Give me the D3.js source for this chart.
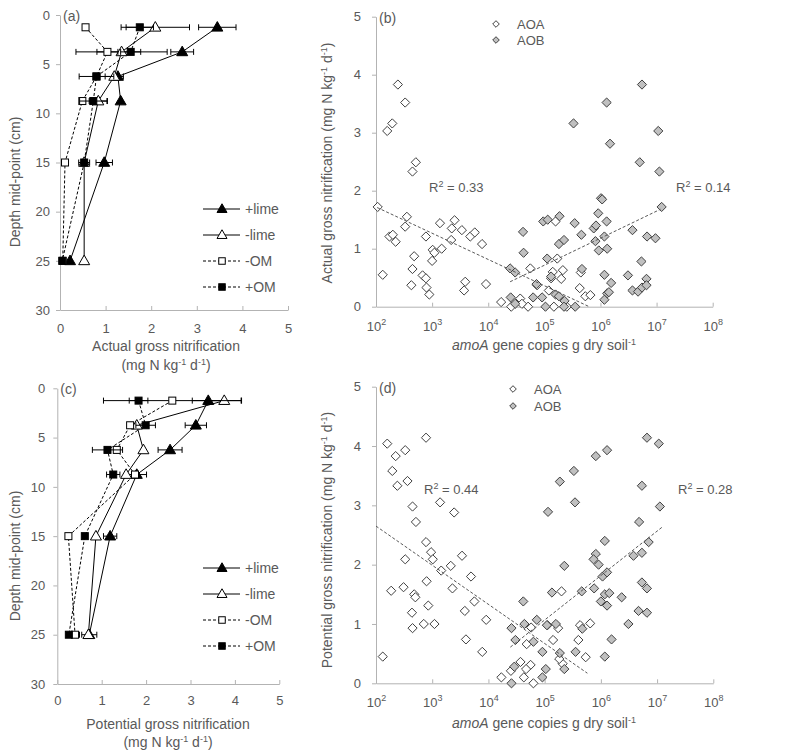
<!DOCTYPE html>
<html><head><meta charset="utf-8">
<script src="https://cdn.jsdelivr.net/npm/d3@7"></script>
<style>
body{margin:0;background:#fff}
text{font-family:"Liberation Sans Narrow","Arial Narrow","Liberation Sans",sans-serif;fill:#595959}
</style>
</head><body>
<svg id="chart" width="787" height="754"></svg>
<script>
// ---------- Data: depth profiles ----------
const depths = [1.25, 3.75, 6.25, 8.75, 15, 25];
const depthTicks = [0, 5, 10, 15, 20, 25, 30];
const rateTicks = [0, 1, 2, 3, 4, 5];
const seriesNames = ["+lime", "-lime", "-OM", "+OM"];

const actPlusLime = [3.45, 2.68, 1.27, 1.33, 0.97, 0.22];
const actPlusLimeErr = [0.41, 0.25, 0, 0, 0.18, 0];
const actMinusLime = [2.09, 1.35, 1.19, 0.84, 0.53, 0.53];
const actMinusLimeErr = [0.75, 1.0, 0.2, 0.2, 0, 0];
const actMinusOM = [0.56, 1.04, 0.80, 0.49, 0.11, 0.06];
const actMinusOMErr = [0, 0.23, 0, 0, 0, 0];
const actPlusOM = [1.75, 1.55, 0.80, 0.73, 0.53, 0.05];
const actPlusOMErr = [0.3, 0.22, 0.38, 0.3, 0.12, 0];

const potPlusLime = [3.40, 3.12, 2.54, 1.79, 1.19, 0.72];
const potPlusLimeErr = [0.36, 0.24, 0.27, 0.22, 0.15, 0.17];
const potMinusLime = [3.76, 1.79, 1.94, 1.55, 0.87, 0.70];
const potMinusLimeErr = [0.39, 0, 0, 0, 0, 0];
const potMinusOM = [2.59, 1.64, 1.34, 1.75, 0.25, 0.40];
const potMinusOMErr = [1.55, 0, 0, 0, 0, 0.1];
const potPlusOM = [1.83, 1.99, 1.13, 1.26, 0.62, 0.26];
const potPlusOMErr = [0.21, 0.22, 0.34, 0.15, 0, 0];

// ---------- Data: amoA scatter (log10 copies, rate) ----------
const copyTickExponents = [2, 3, 4, 5, 6, 7, 8];

const aoaActLog = [2.39,2.52,2.29,2.20,2.71,2.65,2.03,2.12,2.24,2.30,2.35,2.55,2.52,2.68,2.65,2.63,2.89,2.83,2.89,2.90,2.95,3.00,3.01,3.04,3.17,3.14,3.34,3.35,3.40,3.53,3.68,3.76,3.89,3.59,3.57,3.96,4.23,4.41,4.57,4.71,4.60,4.75,4.87,5.17,5.20,5.15,5.12,5.23,5.33,5.30,5.40,5.63,5.65,5.73,5.82,5.08];
const aoaActRate = [3.83,3.52,3.16,3.03,2.49,2.33,1.72,0.55,1.21,1.24,1.12,1.55,1.38,0.87,0.65,0.37,1.21,0.54,0.49,0.33,0.21,0.79,0.98,0.93,1.00,1.44,1.15,1.35,1.49,1.32,1.21,1.28,1.08,0.43,0.28,0.39,0.08,0.00,0.14,0.00,0.05,0.66,0.37,0.00,1.47,0.60,0.49,0.83,0.63,0.48,0.00,0.32,0.59,0.18,0.20,0.28];
const aobActLog = [4.39,4.48,4.62,4.63,4.40,4.48,4.80,4.86,4.96,5.02,4.98,5.06,5.05,5.12,5.20,5.26,5.26,5.27,5.35,5.36,5.35,5.55,5.54,5.66,5.67,5.88,5.92,5.96,5.91,5.97,6.01,6.03,6.07,6.11,6.12,6.07,6.12,6.15,6.07,6.19,6.57,6.49,6.57,6.67,6.73,6.74,6.82,6.82,6.83,6.98,7.09,7.05,5.52,6.11,6.74,7.03,6.17,6.70];
const aobActRate = [0.66,0.59,1.29,0.93,0.16,0.05,0.16,0.39,0.16,0.00,1.47,1.50,0.83,0.52,0.21,0.18,1.08,1.56,1.15,0.10,0.00,0.00,1.44,1.24,0.65,1.35,1.40,1.61,1.13,0.97,1.87,1.85,1.21,1.47,1.00,0.55,0.23,0.25,0.12,0.41,1.32,0.54,0.28,0.26,0.78,0.33,0.48,0.37,1.21,1.18,1.72,2.33,3.16,3.52,3.83,3.03,2.81,2.49];

const aoaPotLog = [2.20,2.35,2.52,2.29,2.38,2.56,2.89,3.14,3.39,2.65,2.71,2.89,2.98,3.01,2.52,3.33,3.53,3.16,2.12,2.27,2.49,2.68,2.70,2.64,2.65,2.85,2.90,2.93,3.04,3.36,3.58,3.60,3.69,3.75,3.89,3.96,4.23,4.40,4.57,4.63,4.75,4.80,4.68,4.76,4.67,5.05,5.15,5.24,5.30,5.32,5.26,5.60,5.63,5.73,5.81];
const aoaPotRate = [4.04,3.83,3.93,3.58,3.33,3.41,4.14,3.05,2.88,2.98,2.72,2.38,2.21,2.09,2.09,1.98,2.15,1.90,0.45,1.56,1.62,1.50,1.45,1.19,0.93,1.00,1.72,1.31,1.00,1.60,1.22,0.74,1.80,1.38,0.53,1.07,0.10,0.21,0.36,0.10,0.31,0.00,0.66,0.94,0.24,0.98,0.73,0.93,1.55,0.33,0.41,0.73,0.98,0.44,1.01];
const aobPotLog = [5.06,5.27,5.52,5.54,5.91,6.11,6.82,7.03,6.73,7.05,6.68,6.85,6.07,6.73,6.58,5.35,5.91,5.96,5.87,6.03,6.11,5.88,6.07,6.15,6.00,6.11,5.66,5.13,6.37,6.73,6.82,6.67,6.82,6.49,6.19,6.07,5.67,5.55,5.20,5.04,4.86,4.96,5.02,4.96,5.35,5.27,4.64,4.62,4.80,4.48,4.41,4.46,4.41];
const aobPotRate = [2.89,3.40,3.58,3.05,3.83,3.93,4.14,4.04,3.33,2.98,2.72,2.38,2.40,2.20,2.15,1.98,2.18,2.00,2.09,1.80,1.87,1.60,1.50,1.52,1.38,1.31,1.55,1.53,1.45,1.70,1.60,1.22,1.19,1.00,0.74,0.45,0.92,0.53,1.00,0.98,1.07,0.53,0.24,0.10,0.24,0.51,1.00,1.38,0.70,0.73,0.93,0.28,0.00];

// trend lines (log10 copies, rate) endpoints
const trendActAOA = [[2.02, 1.71], [5.80, 0.00]];
const trendActAOB = [[4.39, 0.43], [7.07, 1.68]];
const trendPotAOA = [[2.00, 2.65], [5.76, 0.17]];
const trendPotAOB = [[4.39, 0.61], [7.10, 2.64]];
const r2Act = ["0.33", "0.14"];
const r2Pot = ["0.44", "0.28"];

// ---------- Drawing ----------
const svg = d3.select("#chart");
const AXIS = "#b3b3b3";
const TXT = "#595959";

function styleAxis(g) {
  g.selectAll("path.domain").attr("stroke", AXIS);
  g.selectAll(".tick line").attr("stroke", AXIS);
  g.selectAll(".tick text").attr("fill", TXT).style("font-size", "13px")
    .style("font-family", '"Liberation Sans Narrow","Arial Narrow","Liberation Sans",sans-serif');
}

function supText(sel, parts) {
  parts.forEach(([t, m]) => {
    const ts = sel.append("tspan").text(t);
    if (m === "s") ts.attr("baseline-shift", "super").style("font-size", "9px");
    if (m === "i") ts.style("font-style", "italic");
  });
}

const seriesStyle = [
  {shape: "tri", fill: "#000", dash: null},
  {shape: "tri", fill: "#fff", dash: null},
  {shape: "sq", fill: "#fff", dash: "3,2"},
  {shape: "sq", fill: "#000", dash: "3,2"}
];

function marker(g, shape, fill, cx, cy, big) {
  if (shape === "tri") {
    const s = big ? 11 : 10;
    const h = s * 0.87;
    g.append("path")
      .attr("d", `M${cx},${cy - h * 0.6}L${cx + s / 2},${cy + h * 0.4}L${cx - s / 2},${cy + h * 0.4}Z`)
      .attr("fill", fill).attr("stroke", "#000").attr("stroke-width", 1);
  } else {
    const s = big ? 7 : 6.5;
    g.append("rect").attr("x", cx - s / 2).attr("y", cy - s / 2).attr("width", s).attr("height", s)
      .attr("fill", fill).attr("stroke", "#000").attr("stroke-width", 1);
  }
}

function depthPanel(cfg) {
  const x = d3.scaleLinear().domain([0, 5]).range(cfg.xr);
  const y = d3.scaleLinear().domain([0, 30]).range(cfg.yr);
  const g = svg.append("g");

  const ya = g.append("g").attr("transform", `translate(${cfg.xr[0]},0)`)
    .call(d3.axisLeft(y).tickValues(depthTicks).tickSizeInner(4).tickSizeOuter(0).tickPadding(cfg.yPad));
  styleAxis(ya);
  const xa = g.append("g").attr("transform", `translate(0,${cfg.yr[1]})`)
    .call(d3.axisBottom(x).tickValues(rateTicks).tickSizeInner(-4).tickSizeOuter(0).tickFormat(d3.format("d")));
  styleAxis(xa);
  xa.selectAll(".tick text").attr("y", cfg.xLabY - cfg.yr[1]).attr("dy", null);

  const line = d3.line().x(d => x(d[0])).y(d => y(d[1]));
  cfg.series.forEach((s, i) => {
    const st = seriesStyle[i];
    const pts = s.vals.map((v, j) => [v, depths[j]]);
    g.append("path").datum(pts).attr("d", line).attr("fill", "none")
      .attr("stroke", "#000").attr("stroke-width", 1)
      .attr("stroke-dasharray", st.dash);
  });
  cfg.series.forEach((s, i) => {
    const st = seriesStyle[i];
    s.vals.forEach((v, j) => {
      const e = s.err[j];
      if (e > 0) {
        const yy = y(depths[j]);
        g.append("line").attr("x1", x(v - e)).attr("x2", x(v + e)).attr("y1", yy).attr("y2", yy)
          .attr("stroke", "#000").attr("stroke-width", 1);
        [v - e, v + e].forEach(b => g.append("line").attr("x1", x(b)).attr("x2", x(b))
          .attr("y1", yy - 3).attr("y2", yy + 3).attr("stroke", "#000").attr("stroke-width", 1));
      }
    });
    s.vals.forEach((v, j) => marker(g, st.shape, st.fill, x(v), y(depths[j]), true));
  });

  seriesNames.forEach((n, i) => {
    const st = seriesStyle[i];
    const ly = cfg.legY + i * 26;
    g.append("line").attr("x1", 203).attr("x2", 240).attr("y1", ly).attr("y2", ly)
      .attr("stroke", "#000").attr("stroke-width", 1).attr("stroke-dasharray", st.dash);
    marker(g, st.shape, st.fill, 222, ly, false);
    g.append("text").attr("x", 245).attr("y", ly + 5).style("font-size", "14px").text(n);
  });

  g.append("text").attr("x", cfg.xr[0] + 3).attr("y", cfg.yr[0] + 6).style("font-size", "14px").text(cfg.tag);
  g.append("text").attr("transform", `translate(${cfg.yTitleX},${cfg.yTitleY}) rotate(-90)`)
    .attr("text-anchor", "middle").style("font-size", "14px").text("Depth mid-point (cm)");
  g.append("text").attr("x", cfg.xTitleX).attr("y", cfg.xTitleY).attr("text-anchor", "middle")
    .style("font-size", "14px").text(cfg.xTitle);
  const u = g.append("text").attr("x", cfg.xTitleX).attr("y", cfg.unitY).attr("text-anchor", "middle")
    .style("font-size", "14px");
  supText(u, [["(mg N kg", "n"], ["-1", "s"], [" d", "n"], ["-1", "s"], [")", "n"]]);
}

function diamond(g, cx, cy, r, fill, stroke) {
  g.append("path").attr("d", `M${cx},${cy - r}L${cx + r},${cy}L${cx},${cy + r}L${cx - r},${cy}Z`)
    .attr("fill", fill).attr("stroke", stroke).attr("stroke-width", 1);
}

function scatterPanel(cfg) {
  const x = d3.scaleLog().domain([1e2, 1e8]).range(cfg.xr);
  const y = d3.scaleLinear().domain([0, 5]).range(cfg.yr);
  const g = svg.append("g");

  const ya = g.append("g").attr("transform", `translate(${cfg.xr[0]},0)`)
    .call(d3.axisLeft(y).tickValues(rateTicks).tickSizeInner(4).tickSizeOuter(0).tickPadding(11).tickFormat(d3.format("d")));
  styleAxis(ya);
  const xa = g.append("g").attr("transform", `translate(0,${cfg.yr[0]})`)
    .call(d3.axisBottom(x).tickValues(copyTickExponents.map(e => Math.pow(10, e))).tickSizeInner(-4).tickSizeOuter(0));
  styleAxis(xa);
  xa.selectAll(".tick text").each(function(d) {
    const t = d3.select(this);
    t.text("").attr("y", cfg.xLabY - cfg.yr[0]).attr("dy", null);
    t.append("tspan").text("10");
    t.append("tspan").attr("dy", -6).style("font-size", "9px").text(String(Math.round(Math.log10(d))));
  });

  const pts = (lx, ry) => lx.map((v, i) => [Math.pow(10, v), ry[i]]);
  pts(cfg.aoaX, cfg.aoaY).forEach(p => diamond(g, x(p[0]), y(p[1]), 4.6, "#fff", "#404040"));
  pts(cfg.aobX, cfg.aobY).forEach(p => diamond(g, x(p[0]), y(p[1]), 4.6, "#c0c0c0", "#404040"));

  const tl = d3.line().x(d => x(Math.pow(10, d[0]))).y(d => y(d[1]));
  [cfg.tA, cfg.tB].forEach(t => g.append("path").datum(t).attr("d", tl).attr("fill", "none")
    .attr("stroke", "#595959").attr("stroke-width", 1).attr("stroke-dasharray", "3,2"));

  cfg.r2.forEach((r, i) => {
    const t = g.append("text").attr("x", cfg.r2x[i]).attr("y", cfg.r2y).style("font-size", "13px");
    supText(t, [["R", "n"], ["2", "s"], [" = " + r, "n"]]);
  });

  [["AOA", "#fff"], ["AOB", "#c0c0c0"]].forEach((L, i) => {
    const ly = cfg.legY + i * cfg.legDy;
    diamond(g, cfg.legX, ly, 3.3, L[1], "#404040");
    g.append("text").attr("x", cfg.legX + 21).attr("y", ly + 5).style("font-size", "13px").text(L[0]);
  });

  g.append("text").attr("x", cfg.xr[0] + 3).attr("y", cfg.yr[1] + 6).style("font-size", "14px").text(cfg.tag);
  const yt = g.append("text").attr("transform", `translate(${cfg.yTitleX},${cfg.yTitleY}) rotate(-90)`)
    .attr("text-anchor", "middle").style("font-size", "14px");
  supText(yt, [[cfg.yTitle + " (mg N kg", "n"], ["-1", "s"], [" d", "n"], ["-1", "s"], [")", "n"]]);
  const xt = g.append("text").attr("x", 544).attr("y", cfg.xTitleY).attr("text-anchor", "middle")
    .style("font-size", "14px");
  supText(xt, [["amoA", "i"], [" gene copies g dry soil", "n"], ["-1", "s"]]);
}

depthPanel({
  xr: [60, 288], yr: [15, 310], yPad: 6, xLabY: 333, tag: "(a)",
  legY: 209, yTitleX: 20, yTitleY: 182, xTitleX: 166, xTitleY: 351, unitY: 370,
  xTitle: "Actual gross nitrification",
  series: [
    {vals: actPlusLime, err: actPlusLimeErr},
    {vals: actMinusLime, err: actMinusLimeErr},
    {vals: actMinusOM, err: actMinusOMErr},
    {vals: actPlusOM, err: actPlusOMErr}
  ]
});
depthPanel({
  xr: [57.3, 279.3], yr: [388.3, 684], yPad: 8, xLabY: 705, tag: "(c)",
  legY: 568, yTitleX: 20, yTitleY: 556, xTitleX: 168, xTitleY: 729, unitY: 747,
  xTitle: "Potential gross nitrification",
  series: [
    {vals: potPlusLime, err: potPlusLimeErr},
    {vals: potMinusLime, err: potMinusLimeErr},
    {vals: potMinusOM, err: potMinusOMErr},
    {vals: potPlusOM, err: potPlusOMErr}
  ]
});
scatterPanel({
  xr: [376, 712.7], yr: [306.7, 16.7], xLabY: 331, tag: "(b)",
  aoaX: aoaActLog, aoaY: aoaActRate, aobX: aobActLog, aobY: aobActRate,
  tA: trendActAOA, tB: trendActAOB, r2: r2Act, r2x: [429, 676], r2y: 192,
  legX: 496, legY: 24, legDy: 16,
  yTitle: "Actual gross nitrification", yTitleX: 332, yTitleY: 163, xTitleY: 350
});
scatterPanel({
  xr: [376, 713.3], yr: [683.3, 386.7], xLabY: 707, tag: "(d)",
  aoaX: aoaPotLog, aoaY: aoaPotRate, aobX: aobPotLog, aobY: aobPotRate,
  tA: trendPotAOA, tB: trendPotAOB, r2: r2Pot, r2x: [424, 678], r2y: 494,
  legX: 513, legY: 389, legDy: 17,
  yTitle: "Potential gross nitrification", yTitleX: 332, yTitleY: 540, xTitleY: 728
});
</script>
</body></html>
